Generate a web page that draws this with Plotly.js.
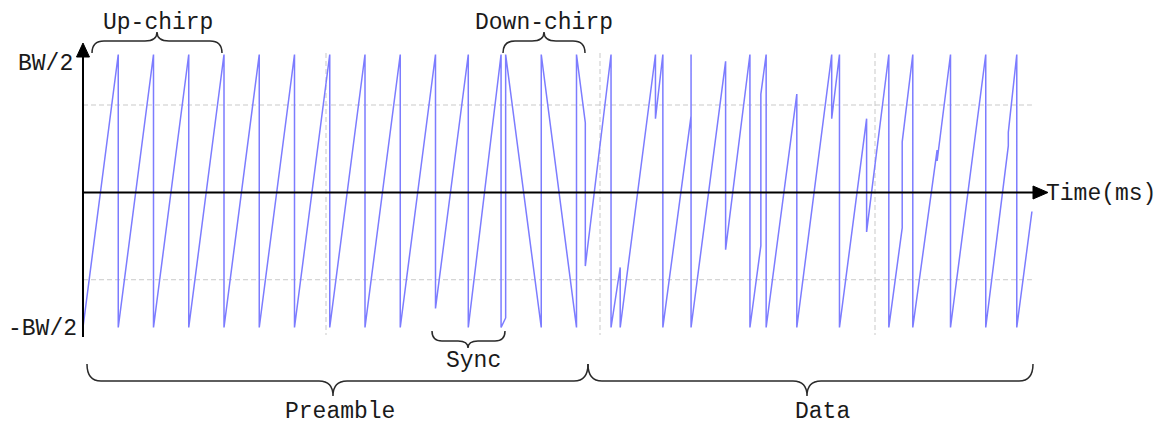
<!DOCTYPE html>
<html>
<head>
<meta charset="utf-8">
<script src="https://cdn.plot.ly/plotly-3.0.1.min.js"></script>
<style>
  html, body { margin: 0; padding: 0; background: #ffffff; }
  #chart { width: 1159px; height: 425px; }
</style>
</head>
<body>
<div id="chart"></div>
<script>
// LoRa frame: instantaneous frequency (normalised to BW/2) against time in symbol periods.
// Vertices of the chirp trace: preamble up-chirps, 2 sync symbols, 2.25 down-chirps, then data symbols.
const chirpTime = [
  0, 0, 1, 1, 2, 2, 3, 3, 4, 4, 5, 5, 6, 6, 7, 7, 8, 8, 9, 9, 10,
  10, 10.93, 10.93, 11.86, 11.86, 11.99, 11.99,
  13, 13, 14, 14, 14.25,
  14.25, 14.98, 14.98, 15.24, 15.24, 16.24, 16.24, 16.45, 16.45,
  17.25, 17.25, 17.25, 18.23, 18.23, 18.92, 18.92, 19.23, 19.23,
  19.38, 19.38, 20.25, 20.25, 21.24, 21.24, 21.46, 21.46, 22.23, 22.23,
  22.86, 22.86, 23.24, 23.24, 23.54, 23.54, 24.23, 24.23, 24.61, 24.61,
  25.61, 25.61, 26.25, 26.25, 26.49, 26.49, 26.92
];
const chirpFreq = [
  1, -1, 1, -1, 1, -1, 1, -1, 1, -1, 1, -1, 1, -1, 1, -1, 1, -1, 1, -1, 1,
  -0.86, 1, -1, 1, -1, -0.93, 1,
  -1, 1, -1, 1, 0.5,
  -0.55, 1, -1, -0.56, -1, 1, 0.53, 1, -1,
  0.55, 1, -1, 0.95, -0.43, 1, -1, -0.4, 0.71,
  1, -1, 0.71, -1, 1, 0.53, 1, -1, 0.53, -0.30,
  1, -1, -0.27, 0.36, 1, -1, 0.30, 0.22, 1, -1,
  1, -1, 0.33, 0.43, 1, -1, -0.15
];

// Dashed reference grid (time in symbols, frequency normalised)
const gridTimes = [6.894, 14.667, 22.468];
const gridFreqs = [0.63, -0.65];

// Text labels
const axisLabels = { top: 'BW/2', bottom: '-BW/2', time: 'Time(ms)' };
const segmentLabels = ['Up-chirp', 'Down-chirp', 'Sync', 'Preamble', 'Data'];

const W = 1159, H = 425;
// Pixel -> paper helpers for decorations drawn around the plot
const px = x => x / W;
const py = y => 1 - y / H;
const P = (x, y) => px(x).toFixed(5) + ',' + py(y).toFixed(5);

// Curly brace as an SVG path: ends at yEnd, straight run at yLine, tip at yTip
function brace(x0, x1, xm, yEnd, yLine, yTip, r) {
  return 'M' + P(x0, yEnd) +
    ' Q' + P(x0, yLine) + ' ' + P(x0 + r, yLine) +
    ' L' + P(xm - r, yLine) +
    ' Q' + P(xm, yLine) + ' ' + P(xm, yTip) +
    ' Q' + P(xm, yLine) + ' ' + P(xm + r, yLine) +
    ' L' + P(x1 - r, yLine) +
    ' Q' + P(x1, yLine) + ' ' + P(x1, yEnd);
}

const shapes = [];
const gridStyle = { color: '#c9c9c9', width: 1, dash: '5px,3px' };
gridFreqs.forEach(f => shapes.push({
  type: 'line', xref: 'x', yref: 'y', x0: 0, x1: 26.92, y0: f, y1: f,
  line: gridStyle, layer: 'below'
}));
gridTimes.forEach(t => shapes.push({
  type: 'line', xref: 'x', yref: 'y', x0: t, x1: t, y0: 1.011, y1: -1.055,
  line: gridStyle, layer: 'below'
}));

// Axes with arrow heads
const axisLine = { color: '#000000', width: 2 };
shapes.push({ type: 'path', xref: 'paper', yref: 'paper',
  path: 'M' + P(83, 337) + ' L' + P(83, 55), line: axisLine });
shapes.push({ type: 'path', xref: 'paper', yref: 'paper',
  path: 'M' + P(83, 192.5) + ' L' + P(1035, 192.5), line: axisLine });
shapes.push({ type: 'path', xref: 'paper', yref: 'paper',
  path: 'M' + P(83, 43) + ' L' + P(76.5, 57) + ' L' + P(89.5, 57) + ' Z',
  fillcolor: '#000000', line: { color: '#000000', width: 1 } });
shapes.push({ type: 'path', xref: 'paper', yref: 'paper',
  path: 'M' + P(1048, 192.5) + ' L' + P(1033, 186) + ' L' + P(1033, 199) + ' Z',
  fillcolor: '#000000', line: { color: '#000000', width: 1 } });

// Braces
const braceLine = { color: '#2a2a2a', width: 1.5 };
[
  brace(92, 222, 157, 53, 41, 32, 12),
  brace(503, 585, 544, 53, 41, 32, 12),
  brace(432, 505, 468, 331, 341, 348, 10),
  brace(87, 588, 333, 364, 381, 396, 14),
  brace(588, 1033, 807, 364, 381, 396, 14)
].forEach(p => shapes.push({ type: 'path', xref: 'paper', yref: 'paper', path: p, line: braceLine }));

const textFont = { family: 'Liberation Mono, DejaVu Sans Mono, monospace', size: 23, color: '#1a1a1a' };
function label(text, x, y, anchor) {
  return { text: text, xref: 'paper', yref: 'paper', x: px(x), y: py(y),
    xanchor: anchor || 'center', yanchor: 'middle', showarrow: false, font: textFont };
}
const annotations = [
  label(segmentLabels[0], 157.5, 23),
  label(segmentLabels[1], 544, 23),
  label(segmentLabels[2], 473, 361),
  label(segmentLabels[3], 340, 412),
  label(segmentLabels[4], 822, 412),
  label(axisLabels.top, 45, 64),
  label(axisLabels.bottom, 42, 329),
  label(axisLabels.time, 1101, 194)
];

const trace = {
  x: chirpTime, y: chirpFreq, type: 'scatter', mode: 'lines',
  line: { color: '#7c7cff', width: 1.5 }, hoverinfo: 'skip', showlegend: false
};

const layout = {
  width: W, height: H, autosize: false,
  margin: { l: 0, r: 0, t: 0, b: 0, pad: 0 },
  paper_bgcolor: '#ffffff', plot_bgcolor: '#ffffff',
  xaxis: { range: [-83 / 35.25, (W - 83) / 35.25], visible: false, fixedrange: true },
  yaxis: { range: [(191 - H) / 136.5, 191 / 136.5], visible: false, fixedrange: true },
  shapes: shapes, annotations: annotations, showlegend: false
};

Plotly.newPlot('chart', [trace], layout, { displayModeBar: false, staticPlot: true });
</script>
</body>
</html>
